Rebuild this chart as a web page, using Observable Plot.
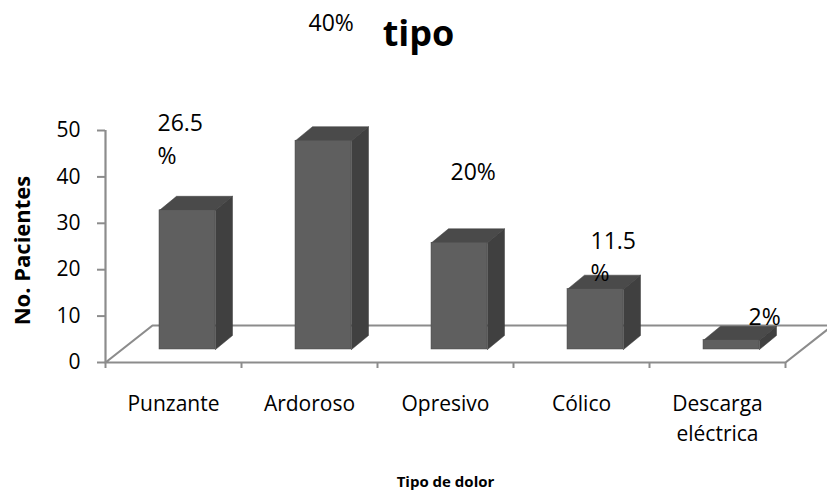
<!DOCTYPE html>
<html>
<head>
<meta charset="utf-8">
<script src="https://cdn.jsdelivr.net/npm/d3@7"></script>
<script src="https://cdn.jsdelivr.net/npm/@observablehq/plot@0.6"></script>
<style>
  html, body { margin: 0; padding: 0; background: #fff; overflow: hidden; }
</style>
</head>
<body>
<div id="chart"></div>
<script>
// ---- data ----
const categories = ["Punzante", "Ardoroso", "Opresivo", "Cólico", "Descarga\neléctrica"];
const patients = [30, 45, 23, 13, 2];
const percentLabels = ["26.5\n%", "40%", "20%", "11.5\n%", "2%"];
const yTicks = [0, 10, 20, 30, 40, 50];
const title = "tipo";
const xTitle = "Tipo de dolor";
const yTitle = "No. Pacientes";

// ---- layout ----
const W = 827, H = 495;
const mL = 105, mR = 42, mT = 130, mB = 133;
const xDomain = [0, categories.length];
const yDomain = [0, 50];
const kx = (xDomain[1] - xDomain[0]) / (W - mL - mR); // data units per px
const ky = (yDomain[1] - yDomain[0]) / (H - mT - mB);

// 3D geometry in pixels, converted to data units
const faceL = 54 * kx, faceR = 110 * kx, lift = 13 * ky;
const ddx = 17 * kx, ddy = 14 * ky;
const floorDx = 47 * kx, floorDy = 37 * ky;

const fronts = patients.map((v, i) => ({x1: i + faceL, x2: i + faceR, y1: lift, y2: v + lift}));
const sides = [], tops = [];
patients.forEach((v, i) => {
  const a = i + faceL, b = i + faceR, y0 = lift, y1 = v + lift;
  [[b, y0], [b, y1], [b + ddx, y1 + ddy], [b + ddx, y0 + ddy], [b, y0]].forEach(([x, y]) => sides.push({id: i, x, y}));
  [[a, y1], [b, y1], [b + ddx, y1 + ddy], [a + ddx, y1 + ddy], [a, y1]].forEach(([x, y]) => tops.push({id: i, x, y}));
});
const floor = [[0, 0], [xDomain[1], 0], [xDomain[1] + floorDx, floorDy], [floorDx, floorDy], [0, 0]].map(([x, y]) => ({x, y}));

// label placement (pixel offsets from each bar's band start / value)
const labelOffsets = [[52, -116], [67, -146], [73, -99], [77, -77], [99, -52]];

const gray = "#8c8c8c";

const marks = [
  Plot.line(floor, {x: "x", y: "y", stroke: gray, strokeWidth: 2.2}),
  Plot.ruleX([0], {y1: 0, y2: 50, stroke: gray, strokeWidth: 2.2}),
  Plot.axisY({ticks: yTicks, tickSize: 8, tickPadding: 17, stroke: gray, strokeWidth: 2, fill: "#000", fontSize: 21, label: null}),
  Plot.axisX({ticks: d3.range(categories.length + 1), tickSize: 6, tickFormat: () => "", stroke: gray, strokeWidth: 2, label: null}),
  Plot.line(sides, {x: "x", y: "y", z: "id", fill: "#404040", stroke: "#3a3a3a", strokeWidth: 0.5}),
  Plot.line(tops, {x: "x", y: "y", z: "id", fill: "#4a4a4a", stroke: "#3a3a3a", strokeWidth: 0.5}),
  Plot.rect(fronts, {x1: "x1", x2: "x2", y1: "y1", y2: "y2", fill: "#5f5f5f", stroke: "#4a4a4a", strokeWidth: 0.5}),
  Plot.text(categories, {x: (d, i) => i + 0.5, y: () => 0, text: d => d, dy: 27, lineAnchor: "top", lineHeight: 1.43, fontSize: 21, fill: "#000"}),
  ...percentLabels.map((t, i) => Plot.text([t], {x: () => i, y: () => patients[i], text: d => d, dx: labelOffsets[i][0], dy: labelOffsets[i][1], textAnchor: "start", lineAnchor: "top", lineHeight: 1.43, fontSize: 23, fill: "#000"})),
  Plot.text([title], {frameAnchor: "top-left", text: d => d, dx: 313, dy: -96, textAnchor: "middle", lineAnchor: "middle", fontSize: 36, fontWeight: "bold", fill: "#000"}),
  Plot.text([yTitle], {frameAnchor: "left", text: d => d, dx: -83, dy: 4, rotate: -90, textAnchor: "middle", lineAnchor: "middle", fontSize: 22, fontWeight: "bold", fill: "#000"}),
  Plot.text([xTitle], {frameAnchor: "bottom", text: d => d, dy: 120, textAnchor: "middle", lineAnchor: "middle", fontSize: 15, fontWeight: "bold", fill: "#000"})
];

const chart = Plot.plot({
  width: W, height: H,
  marginLeft: mL, marginRight: mR, marginTop: mT, marginBottom: mB,
  x: {domain: xDomain},
  y: {domain: yDomain},
  style: {fontFamily: "'Open Sans', sans-serif", fontSize: "19px", background: "#fff", color: "#000", overflow: "hidden"},
  marks
});
document.getElementById("chart").appendChild(chart);
</script>
</body>
</html>
